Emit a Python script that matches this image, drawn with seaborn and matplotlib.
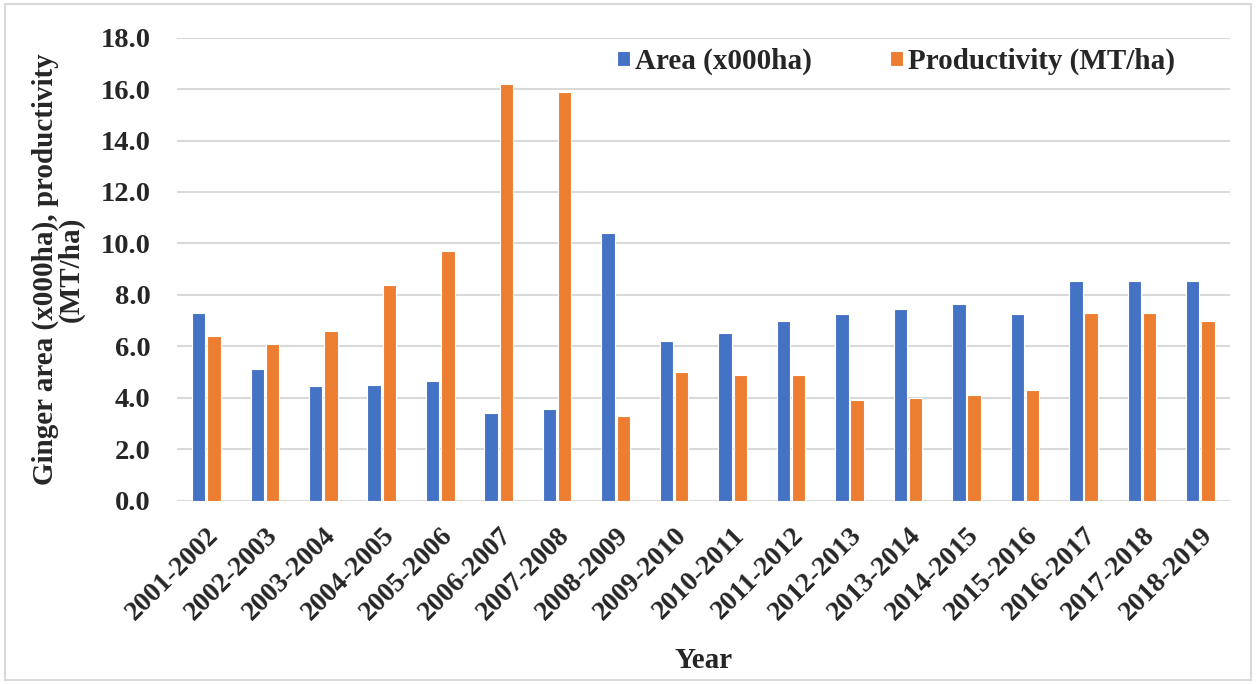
import seaborn as sns
import pandas as pd
import matplotlib.pyplot as plt
from matplotlib.patches import Rectangle

sns.set_theme(style='white')
plt.rcParams['font.family'] = ['Liberation Serif', 'DejaVu Serif']
plt.rcParams['font.weight'] = 'bold'

# data
years = ['2001-2002', '2002-2003', '2003-2004', '2004-2005', '2005-2006', '2006-2007',
         '2007-2008', '2008-2009', '2009-2010', '2010-2011', '2011-2012', '2012-2013',
         '2013-2014', '2014-2015', '2015-2016', '2016-2017', '2017-2018', '2018-2019']
area = [7.3, 5.1, 4.46, 4.5, 4.67, 3.4, 3.56, 10.4, 6.2, 6.5, 7.0, 7.25,
        7.45, 7.65, 7.25, 8.55, 8.55, 8.55]
productivity = [6.4, 6.1, 6.6, 8.4, 9.7, 16.2, 15.9, 3.3, 5.0, 4.9, 4.9, 3.9,
                4.0, 4.1, 4.3, 7.3, 7.3, 7.0]
series_names = ['Area (x000ha)', 'Productivity (MT/ha)']

df = pd.DataFrame({
    'Year': years * 2,
    'value': area + productivity,
    'series': [series_names[0]] * len(years) + [series_names[1]] * len(years),
})

fig = plt.figure(figsize=(12.56, 6.84), dpi=100)
ax = fig.add_axes([0.141, 0.268, 0.838, 0.677])

sns.barplot(data=df, x='Year', y='value', hue='series', ax=ax,
            palette=['#4472C4', '#ED7D31'], saturation=1, width=0.52, gap=0.12,
            edgecolor='white', linewidth=0.8)

ax.set_ylim(0, 18)
ax.set_yticks(range(0, 19, 2))
ax.set_yticklabels([f'{v:.1f}' for v in range(0, 19, 2)], fontsize=20.5, fontweight='bold')
ax.set_xlim(-0.5, len(years) - 0.5)
ax.yaxis.grid(True, color='#D9D9D9', linewidth=1.5)
ax.set_axisbelow(True)
for s in ax.spines.values():
    s.set_visible(False)
ax.tick_params(axis='both', length=0)
ax.tick_params(axis='y', pad=19)
ax.tick_params(axis='x', pad=16)
plt.setp(ax.get_xticklabels(), rotation=45, ha='right', rotation_mode='anchor',
         fontsize=20, fontweight='bold')

ax.set_xlabel('Year', fontsize=21, fontweight='bold')
ax.xaxis.set_label_coords(0.5, -0.315)
ax.set_ylabel('Ginger area (x000ha), productivity\n(MT/ha)', fontsize=21,
              fontweight='bold', linespacing=0.9)
ax.yaxis.set_label_coords(-0.088, 0.5)

leg = ax.legend(loc='center', bbox_to_anchor=(0.683, 0.948), ncol=2, frameon=False,
                handlelength=0.45, handleheight=0.45, columnspacing=2.7,
                handletextpad=0.15, prop={'size': 21, 'weight': 'bold'})

fig.patches.append(Rectangle((0.004, 0.006), 0.992, 0.988, transform=fig.transFigure,
                             fill=False, edgecolor='#D9D9D9', linewidth=1.5))

fig.savefig('out.png', dpi=100)
